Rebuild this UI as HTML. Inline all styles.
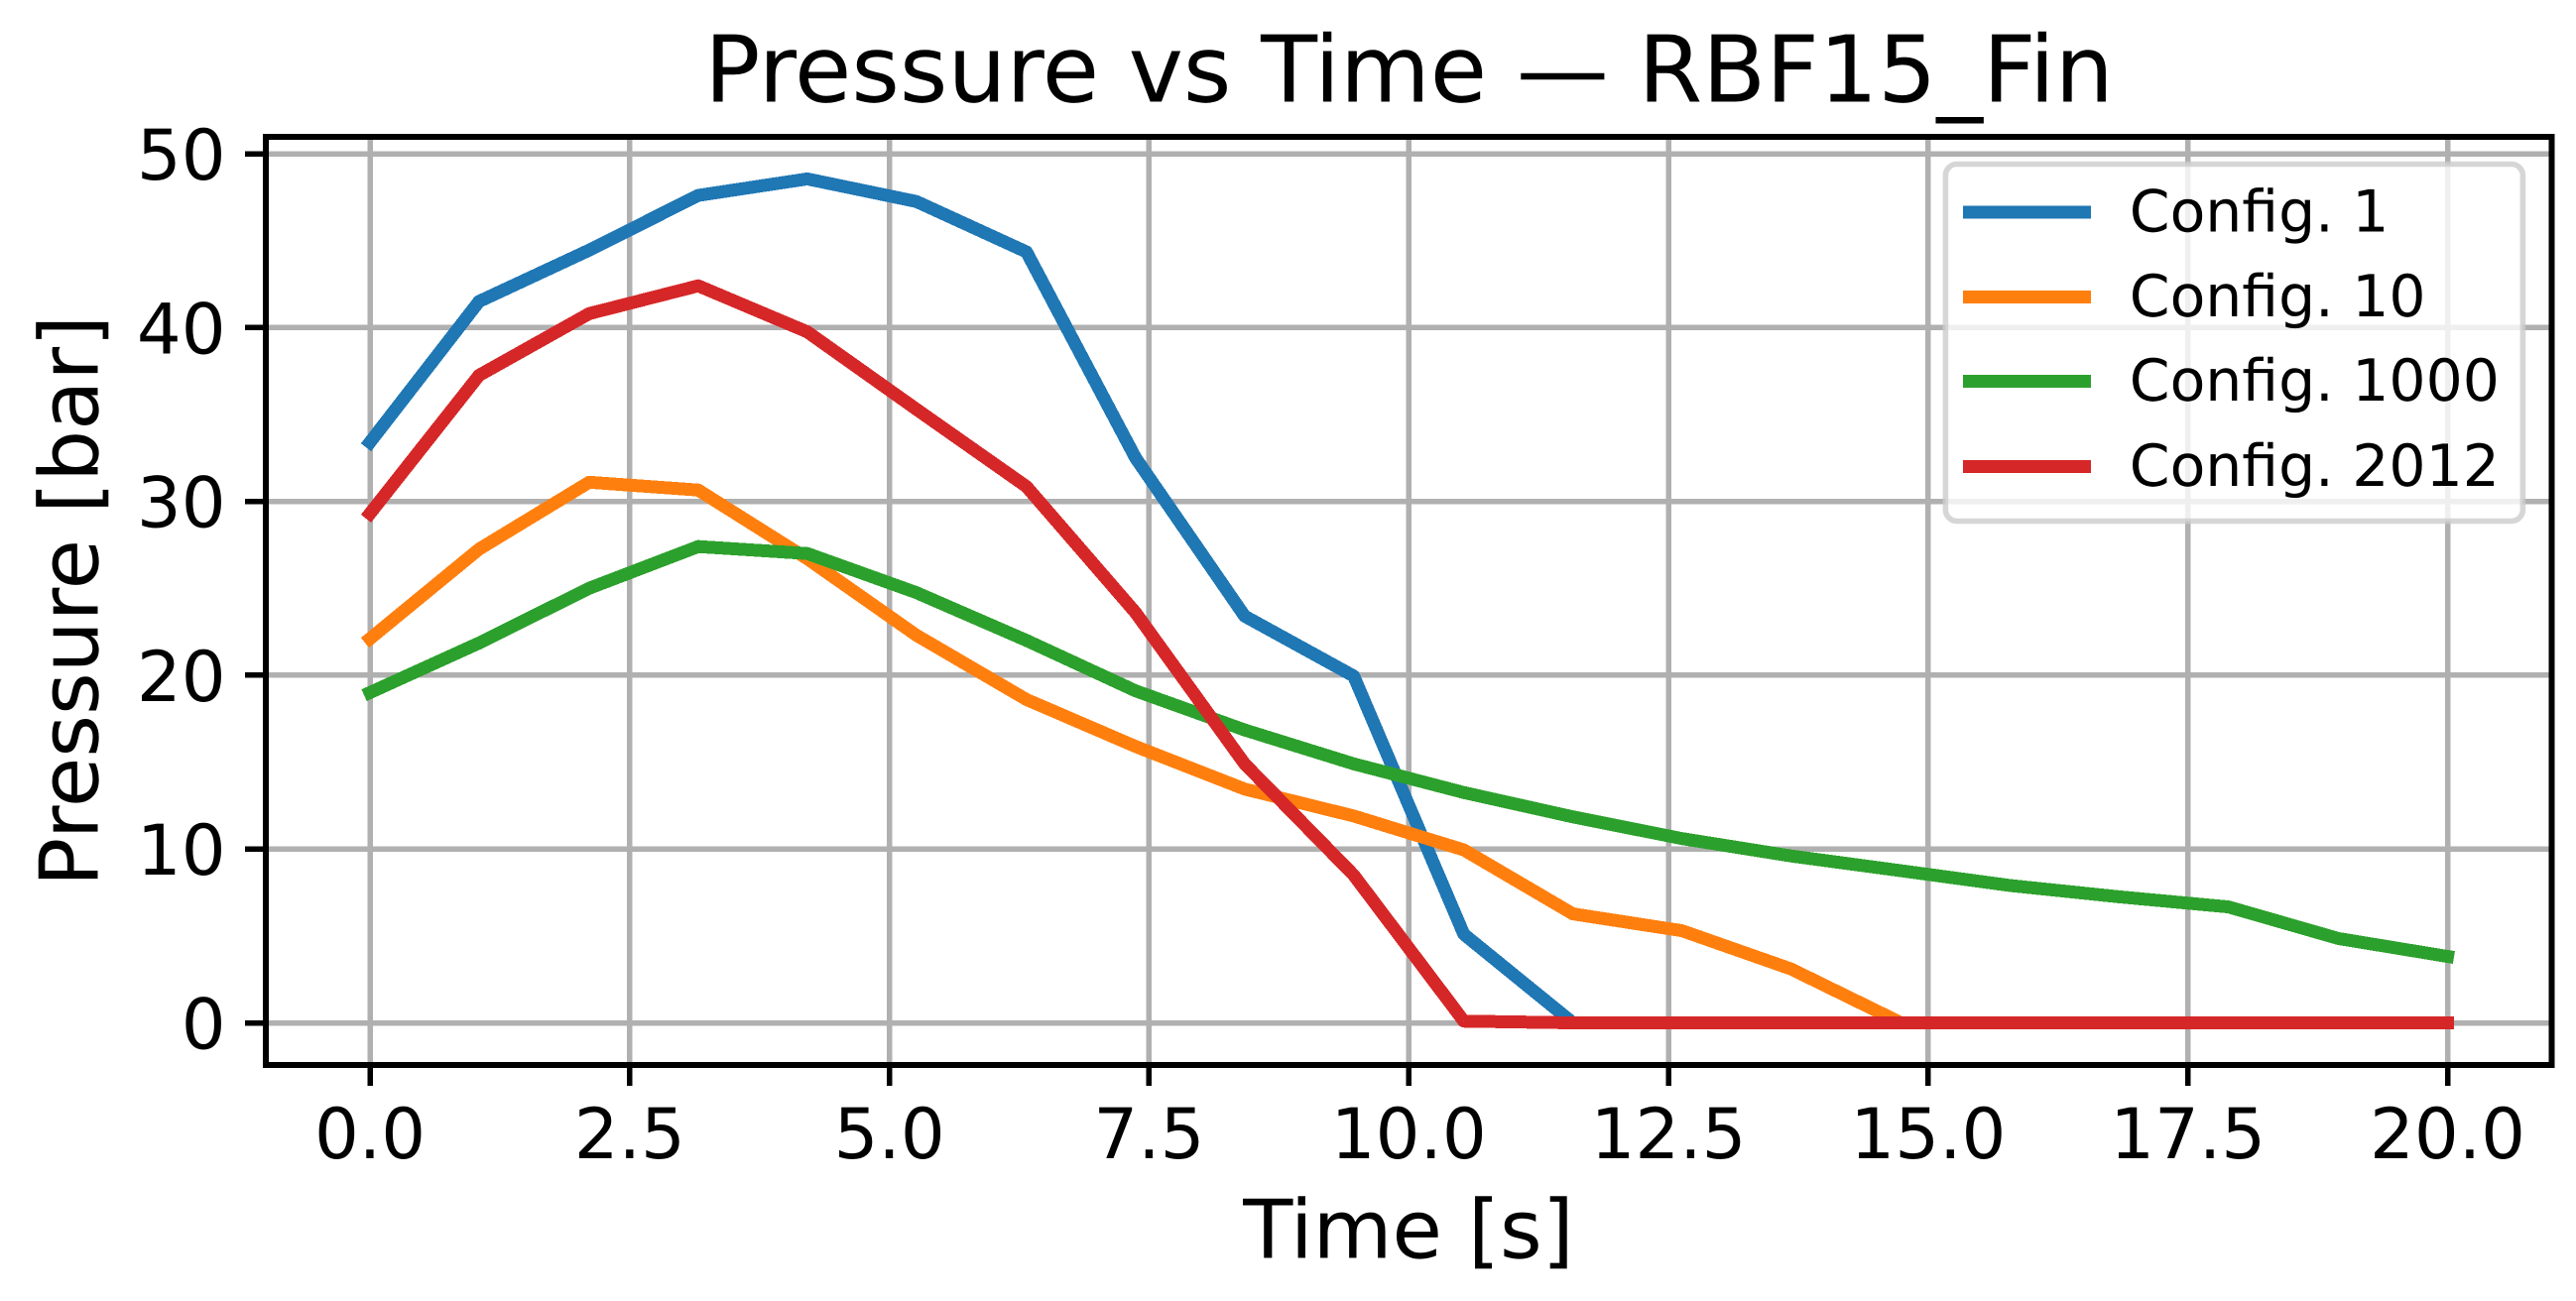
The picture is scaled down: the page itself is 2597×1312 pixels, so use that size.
<!DOCTYPE html>
<html lang="en">
<head>
<meta charset="utf-8">
<title>Pressure vs Time — RBF15_Fin</title>
<style>
html,body{margin:0;padding:0;background:#fff;}
svg{display:block;}
text{font-family:"DejaVu Sans","Liberation Sans",sans-serif;fill:#000;text-rendering:geometricPrecision;}
line,rect,polyline{shape-rendering:crispEdges;}
</style>
</head>
<body>
<svg id="chart" xmlns="http://www.w3.org/2000/svg" width="2597" height="1312" viewBox="0 0 2597 1312"></svg>
<script>
const times = [0,1.05,2.11,3.16,4.21,5.26,6.32,7.37,8.42,9.47,10.53,11.58,12.63,13.68,14.74,15.79,16.84,17.89,18.95,20];
const config1 = [33.4,41.5,44.45,47.6,48.55,47.25,44.35,32.5,23.4,19.95,5.1,0,0,0,0,0,0,0,0,0];
const config10 = [22.1,27.25,31.1,30.65,26.7,22.3,18.6,15.9,13.45,11.9,9.95,6.27,5.3,3.1,0,0,0,0,0,0];
const config1000 = [19.0,21.85,25.0,27.4,27.0,24.75,22.0,19.1,16.85,14.9,13.25,11.85,10.6,9.6,8.75,7.9,7.25,6.67,4.85,3.82];
const config2012 = [29.3,37.25,40.8,42.4,39.75,35.3,30.85,23.6,14.9,8.5,0.1,0,0,0,0,0,0,0,0,0];
const seriesLabels = ["Config. 1","Config. 10","Config. 1000","Config. 2012"];
const xTicks = [0,2.5,5,7.5,10,12.5,15,17.5,20];
const xTickLabels = ["0.0","2.5","5.0","7.5","10.0","12.5","15.0","17.5","20.0"];
const yTicks = [0,10,20,30,40,50];
const yTickLabels = ["0","10","20","30","40","50"];

const allSeries = [config1,config10,config1000,config2012];
const seriesColors = ["#1f77b4","#ff7f0e","#2ca02c","#d62728"];
const seriesNames = ["line-config-1","line-config-10","line-config-1000","line-config-2012"];
const legendNames = ["legend-entry-config-1","legend-entry-config-10","legend-entry-config-1000","legend-entry-config-2012"];

const NS = "http://www.w3.org/2000/svg";
const svg = document.getElementById("chart");
const L = 268, R = 2572.5, T = 138, B = 1074;
function xScale(t){ return 373 + 104.725 * t; }
function yScale(v){ return 1031.5 - 17.53 * v; }
function mk(tag, attrs, parent){
  const el = document.createElementNS(NS, tag);
  for (const k in attrs) el.setAttribute(k, attrs[k]);
  (parent || svg).appendChild(el);
  return el;
}

/* grid */
const gridGroup = mk("g", {stroke:"#b0b0b0","stroke-width":5.5});


xTicks.forEach(function(t){
  const g = mk("line", {x1:xScale(t),x2:xScale(t),y1:T,y2:B}, gridGroup);
  
  
});
yTicks.forEach(function(v){
  const g = mk("line", {x1:L,x2:R,y1:yScale(v),y2:yScale(v)}, gridGroup);
  
  
});

/* series */
allSeries.forEach(function(vals, i){
  const pts = vals.map(function(v, j){ return xScale(times[j]).toFixed(2) + "," + yScale(v).toFixed(2); }).join(" ");
  const p = mk("polyline", {points:pts,fill:"none",stroke:seriesColors[i],"stroke-width":13,"stroke-linecap":"square","stroke-linejoin":"round"});
  
  
});

/* spines */
const frame = mk("rect", {x:L,y:T,width:R-L,height:B-T,fill:"none",stroke:"#000","stroke-width":5.6});



/* x ticks */
xTicks.forEach(function(t, i){
  const tick = mk("line", {x1:xScale(t),x2:xScale(t),y1:B,y2:1095,stroke:"#000","stroke-width":5.5});
  
  
  const lab = mk("text", {x:xScale(t),y:1168,"text-anchor":"middle","font-size":70.5});
  lab.textContent = xTickLabels[i];
  
  
});

/* y ticks */
yTicks.forEach(function(v, i){
  const tick = mk("line", {x1:247,x2:L,y1:yScale(v),y2:yScale(v),stroke:"#000","stroke-width":5.5});
  
  
  const lab = mk("text", {x:227.6,y:yScale(v)+26,"text-anchor":"end","font-size":70.5});
  lab.textContent = yTickLabels[i];
  
  
});

/* titles */
const title = mk("text", {x:1420.5,y:102.7,"text-anchor":"middle","font-size":93.2});
title.textContent = "Pressure vs Time — RBF15_Fin";



const xTitle = mk("text", {x:1420,y:1268.3,"text-anchor":"middle","font-size":82});
xTitle.textContent = "Time [s]";



const yTitle = mk("text", {x:0,y:0,"text-anchor":"middle","font-size":82,transform:"translate(98.3,606) rotate(-90)"});
yTitle.textContent = "Pressure [bar]";



/* legend */
const legend = mk("g", {});


const legendBox = mk("rect", {x:1961.4,y:165.5,width:582,height:360,rx:11.5,ry:11.5,fill:"#fff","fill-opacity":0.8,stroke:"#ccc","stroke-opacity":0.8,"stroke-width":5.6}, legend);


legendBox.style.shapeRendering = "auto";
const legendRowY = [214,299.3,384.3,470.3];
seriesLabels.forEach(function(label, i){
  const entry = mk("g", {}, legend);
  
  
  const swatch = mk("line", {x1:1985.5,x2:2101.5,y1:legendRowY[i],y2:legendRowY[i],stroke:seriesColors[i],"stroke-width":13,"stroke-linecap":"square"}, entry);
  
  
  const txt = mk("text", {x:2146.8,y:legendRowY[i]+19.7,"font-size":58.4}, entry);
  txt.textContent = label;
  
  
});
</script>
</body>
</html>
